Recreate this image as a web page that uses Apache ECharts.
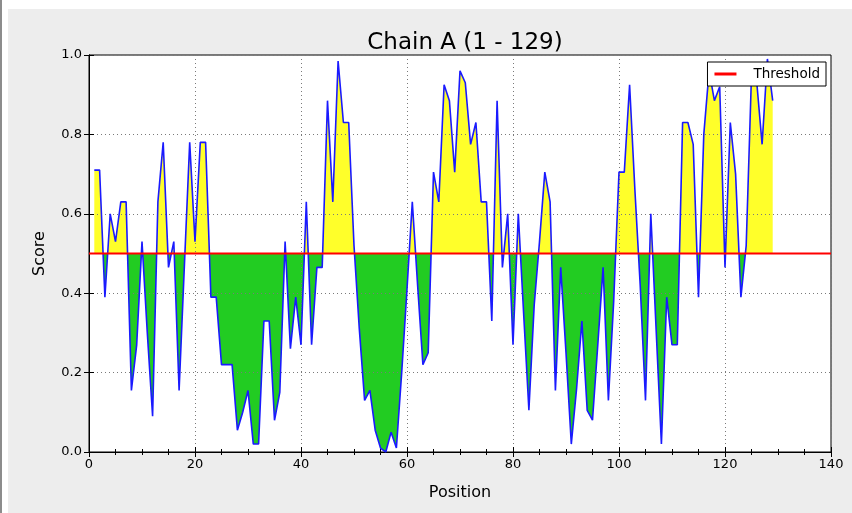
<!DOCTYPE html>
<html>
<head>
<meta charset="utf-8">
<script src="https://cdn.jsdelivr.net/npm/echarts@6/dist/echarts.min.js"></script>
<style>
  html, body { margin: 0; padding: 0; background: #fff; }
  #edge { position: absolute; left: 0; top: 0; width: 2px; height: 513px; background: #8c8c8c; }
  #panel { position: absolute; left: 8px; top: 9px; width: 844px; height: 504px; background: #ededed; }
  #chart { position: absolute; left: 0; top: 0; width: 852px; height: 513px; }
</style>
</head>
<body>
<div id="edge"></div>
<div id="panel"></div>
<div id="chart"></div>
<script>
// score per residue, position 1..129
const scores = [
  0.71, 0.71, 0.39, 0.60, 0.53, 0.63, 0.63, 0.155, 0.27, 0.53,
  0.30, 0.09, 0.63, 0.78, 0.465, 0.53, 0.155, 0.47, 0.78, 0.53,
  0.78, 0.78, 0.39, 0.39, 0.22, 0.22, 0.22, 0.055, 0.10, 0.155,
  0.02, 0.02, 0.33, 0.33, 0.08, 0.15, 0.53, 0.26, 0.39, 0.27,
  0.63, 0.27, 0.465, 0.465, 0.885, 0.63, 0.985, 0.83, 0.83, 0.52,
  0.31, 0.13, 0.155, 0.055, 0.01, 0.0, 0.05, 0.01, 0.20, 0.41,
  0.63, 0.42, 0.22, 0.25, 0.705, 0.63, 0.925, 0.885, 0.705, 0.96,
  0.93, 0.775, 0.83, 0.63, 0.63, 0.33, 0.885, 0.465, 0.60, 0.27,
  0.60, 0.35, 0.105, 0.37, 0.53, 0.705, 0.63, 0.155, 0.465, 0.25,
  0.02, 0.16, 0.33, 0.105, 0.08, 0.27, 0.465, 0.13, 0.38, 0.705,
  0.705, 0.925, 0.66, 0.42, 0.13, 0.60, 0.31, 0.02, 0.39, 0.27,
  0.27, 0.83, 0.83, 0.775, 0.39, 0.80, 0.96, 0.885, 0.92, 0.465,
  0.83, 0.70, 0.39, 0.52, 0.95, 0.93, 0.775, 0.99, 0.885
]
const threshold = 0.5
const xTicks = [0, 20, 40, 60, 80, 100, 120, 140]
const yTicks = [0.0, 0.2, 0.4, 0.6, 0.8, 1.0]

const points = scores.map((v, i) => [i + 1, v])
const font = 'DejaVu Sans'
const gridDots = { color: '#7a7a7a', type: [1, 3], width: 1 }

const chart = echarts.init(document.getElementById('chart'))

const axisCommon = {
  type: 'value',
  z: 3,
  axisLine: { show: true, lineStyle: { color: '#000', width: 1 } },
  axisTick: { show: true, inside: true, length: 5, lineStyle: { color: '#000' } },
  splitLine: { show: true, lineStyle: gridDots },
}

chart.setOption({
  animation: false,
  backgroundColor: 'transparent',
  title: {
    text: 'Chain A (1 - 129)',
    left: 460,
    top: 27,
    textAlign: 'center',
    textStyle: { fontFamily: font, fontSize: 23, fontWeight: 'normal', color: '#000' },
  },
  grid: {
    left: 89, right: 21, top: 55, bottom: 61,
    show: true, backgroundColor: '#fff', borderColor: '#000', borderWidth: 1,
  },
  legend: {
    data: ['Threshold'],
    z: 10,
    right: 26,
    top: 62,
    backgroundColor: '#fff',
    borderColor: '#000',
    borderWidth: 1,
    borderRadius: 0,
    padding: [5, 6, 5, 7],
    itemWidth: 22,
    itemHeight: 3,
    icon: 'rect',
    textStyle: { fontFamily: font, fontSize: 13.5, color: '#000', padding: [0, 0, 0, 12] },
  },
  visualMap: {
    show: false,
    type: 'piecewise',
    seriesIndex: 0,
    dimension: 1,
    pieces: [
      { gte: -1, lt: threshold, color: '#22cc22' },
      { gte: threshold, lte: 2, color: '#ffff2a' },
    ],
  },
  xAxis: [
    {
      ...axisCommon,
      min: 0, max: 140, interval: 20,
      name: 'Position',
      nameLocation: 'middle',
      nameGap: 33,
      nameTextStyle: { fontFamily: font, fontSize: 16, color: '#000' },
      axisLabel: { fontFamily: font, fontSize: 13, color: '#000', margin: 6,
        formatter: (v) => (xTicks.includes(v) ? String(v) : '') },
      minorTick: { show: true, splitNumber: 4, length: 3, lineStyle: { color: '#000' } },
    },
    {
      ...axisCommon,
      position: 'top',
      min: 0, max: 140, interval: 20,
      axisLabel: { show: false },
      splitLine: { show: false },
      minorTick: { show: true, splitNumber: 4, length: 3, lineStyle: { color: '#000' } },
    },
  ],
  yAxis: [
    {
      ...axisCommon,
      min: 0, max: 1, interval: 0.2,
      name: 'Score',
      nameLocation: 'middle',
      nameGap: 41,
      nameTextStyle: { fontFamily: font, fontSize: 16, color: '#000' },
      axisLabel: { fontFamily: font, fontSize: 13, color: '#000', margin: 7,
        formatter: (v) => yTicks.find((t) => Math.abs(t - v) < 1e-6).toFixed(1) },
    },
    {
      ...axisCommon,
      position: 'right',
      min: 0, max: 1, interval: 0.2,
      axisLabel: { show: false },
      splitLine: { show: false },
    },
  ],
  series: [
    {
      name: 'fill',
      type: 'line',
      data: points,
      symbol: 'none',
      z: 2,
      lineStyle: { width: 0 },
      areaStyle: { origin: threshold, opacity: 1 },
    },
    {
      name: 'score',
      type: 'line',
      data: points,
      symbol: 'none',
      z: 4,
      lineStyle: { color: '#1a1aff', width: 1.6 },
    },
    {
      name: 'Threshold',
      type: 'line',
      data: [[0, threshold], [140, threshold]],
      symbol: 'none',
      z: 5,
      color: '#ff0000',
      lineStyle: { color: '#ff0000', width: 2.2 },
    },
  ],
})
</script>
</body>
</html>
